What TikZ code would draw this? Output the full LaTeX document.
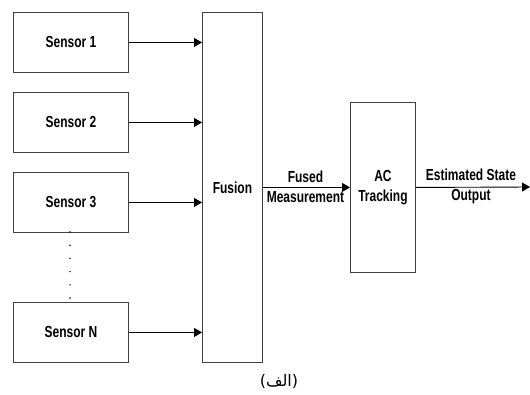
\documentclass[tikz,border=0pt]{standalone}
\usepackage{fontspec}
\setmainfont{Liberation Sans}[FakeStretch=0.75]
\newfontfamily\arabicfont[Script=Arabic]{DejaVu Sans}
\TeXXeTstate=1
\usetikzlibrary{arrows.meta}
\begin{document}
\begin{tikzpicture}[x=1pt,y=-1pt,
  blk/.style={draw=black!75,line width=0.9pt,inner sep=0pt,anchor=north west,
    font=\fontsize{16}{20}\selectfont\bfseries,align=center},
  conn/.style={draw=black,line width=0.9pt,-{Triangle[length=8pt,width=9pt]}},
  lbl/.style={font=\fontsize{16}{20}\selectfont\bfseries,align=center,inner sep=0pt}]
\useasboundingbox (0,0) rectangle (530,394);
\node[blk,minimum width=115pt,minimum height=60pt] (s1) at (13,12) {Sensor 1};
\node[blk,minimum width=115pt,minimum height=60pt] (s2) at (13,92) {Sensor 2};
\node[blk,minimum width=115pt,minimum height=60pt] (s3) at (13,172) {Sensor 3};
\node[blk,minimum width=115pt,minimum height=60pt] (sn) at (13,302) {Sensor N};
\node[blk,minimum width=60pt,minimum height=350pt] (fus) at (202,12) {Fusion};
\node[blk,minimum width=65pt,minimum height=170pt] (ac) at (350,102) {AC\\Tracking};
\coordinate (out) at (530,187);
\foreach \s in {s1,s2,s3,sn}{
  \draw[conn] (\s.east) -- (\s.east -| fus.west);
}
\draw[conn] (fus.east |- ac.west) -- (ac.west)
  node[lbl,midway,xshift=-1pt,yshift=1pt] {Fused\\Measurement};
\draw[conn] (ac.east) -- (out)
  node[lbl,pos=0.5,xshift=-2pt,yshift=1pt] {Estimated State\\Output};
\foreach \i in {0,...,5}{
  \fill (70,232+13.2*\i) circle (0.8pt);
}
\node[inner sep=0pt] (cap) at (279,381) {\fontsize{16}{18}\selectfont\arabicfont\beginR(الف)\endR};
\end{tikzpicture}
\end{document}
